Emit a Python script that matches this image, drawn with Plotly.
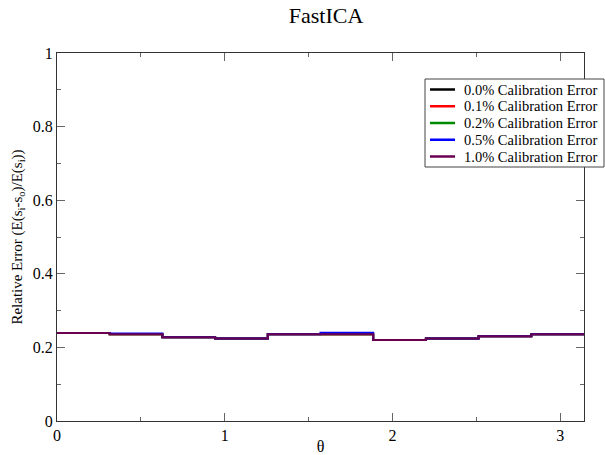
import numpy as np
import plotly.graph_objects as go

# Ten equal theta bins spanning [0, pi]
n_bins = 10
theta_edges = np.linspace(0, np.pi, n_bins + 1)

series_names = [
    "0.0% Calibration Error",
    "0.1% Calibration Error",
    "0.2% Calibration Error",
    "0.5% Calibration Error",
    "1.0% Calibration Error",
]
series_colors = ["#000000", "#ff0000", "#008b00", "#0000ff", "#6b0050"]

err_00 = [0.239, 0.2355, 0.2275, 0.2245, 0.2355, 0.236, 0.2200, 0.2245, 0.2300, 0.2360]
err_01 = [0.239, 0.2355, 0.2275, 0.2245, 0.2355, 0.236, 0.2200, 0.2245, 0.2300, 0.2360]
err_02 = [0.239, 0.2355, 0.2275, 0.2245, 0.2355, 0.236, 0.2200, 0.2245, 0.2300, 0.2360]
err_05 = [0.239, 0.2380, 0.2275, 0.2245, 0.2355, 0.240, 0.2200, 0.2245, 0.2300, 0.2360]
err_10 = [0.239, 0.2355, 0.2275, 0.2245, 0.2355, 0.236, 0.2200, 0.2245, 0.2300, 0.2360]
series_values = [err_00, err_01, err_02, err_05, err_10]

FONT = "Liberation Serif"
W, H = 605, 455
ML, MR, MT, MB = 57, 21, 53, 34
PW, PH = W - ML - MR, H - MT - MB


def px_x(px):
    """Pixel column -> paper x."""
    return (px - ML) / PW


def px_y(py):
    """Pixel row -> paper y."""
    return (H - MB - py) / PH


fig = go.Figure()
for name, color, vals in zip(series_names, series_colors, series_values):
    y = list(vals) + [vals[-1]]
    fig.add_trace(go.Scatter(
        x=theta_edges, y=y, mode="lines", name=name,
        line=dict(color=color, width=2, shape="hv"),
        showlegend=False,
    ))

axis_common = dict(
    showline=True, linecolor="#333333", linewidth=1, mirror="ticks",
    ticks="inside", ticklen=8, tickcolor="#666666", tickwidth=1,
    showgrid=False, zeroline=False, automargin=False,
    tickfont=dict(family=FONT, size=16, color="#000000"),
)

fig.update_xaxes(
    range=[0, np.pi], dtick=1, tick0=0,
    minor=dict(dtick=0.5, ticklen=4, ticks="inside", tickcolor="#666666"),
    title=dict(text="θ", font=dict(family=FONT, size=16, color="#000000"), standoff=4),
    **axis_common,
)
fig.update_yaxes(
    range=[0, 1], dtick=0.2, tick0=0,
    minor=dict(dtick=0.1, ticklen=4, ticks="inside", tickcolor="#666666"),
    title=dict(text="Relative Error (E(s<sub>i</sub>-s<sub>o</sub>)/E(s<sub>i</sub>))",
               font=dict(family=FONT, size=15, color="#000000"), standoff=6),
    **axis_common,
)

# Legend box drawn in paper coordinates
box_l, box_r, box_t, box_b = 425, 604, 79, 167
row_y0, row_dy = 89.5, 16.75
shapes = [dict(type="rect", xref="paper", yref="paper",
               x0=px_x(box_l), x1=px_x(box_r), y0=px_y(box_b), y1=px_y(box_t),
               line=dict(color="#444444", width=1), fillcolor="white", layer="above")]
annotations = []
for i, (name, color) in enumerate(zip(series_names, series_colors)):
    ry = row_y0 + i * row_dy
    shapes.append(dict(type="line", xref="paper", yref="paper",
                       x0=px_x(430), x1=px_x(455), y0=px_y(ry), y1=px_y(ry),
                       line=dict(color=color, width=2.5), layer="above"))
    annotations.append(dict(text=name, xref="paper", yref="paper",
                            x=px_x(462), y=px_y(ry), xanchor="left", yanchor="middle",
                            showarrow=False,
                            font=dict(family=FONT, size=14.5, color="#000000")))

fig.update_layout(
    width=W, height=H,
    margin=dict(l=ML, r=MR, t=MT, b=MB),
    paper_bgcolor="white", plot_bgcolor="white",
    title=dict(text="FastICA", x=px_x(326), xref="paper", xanchor="center",
               y=1 - 15 / H, yref="container", yanchor="middle",
               font=dict(family=FONT, size=22, color="#000000")),
    shapes=shapes,
    annotations=annotations,
    showlegend=False,
)

fig.write_html("out.html")
